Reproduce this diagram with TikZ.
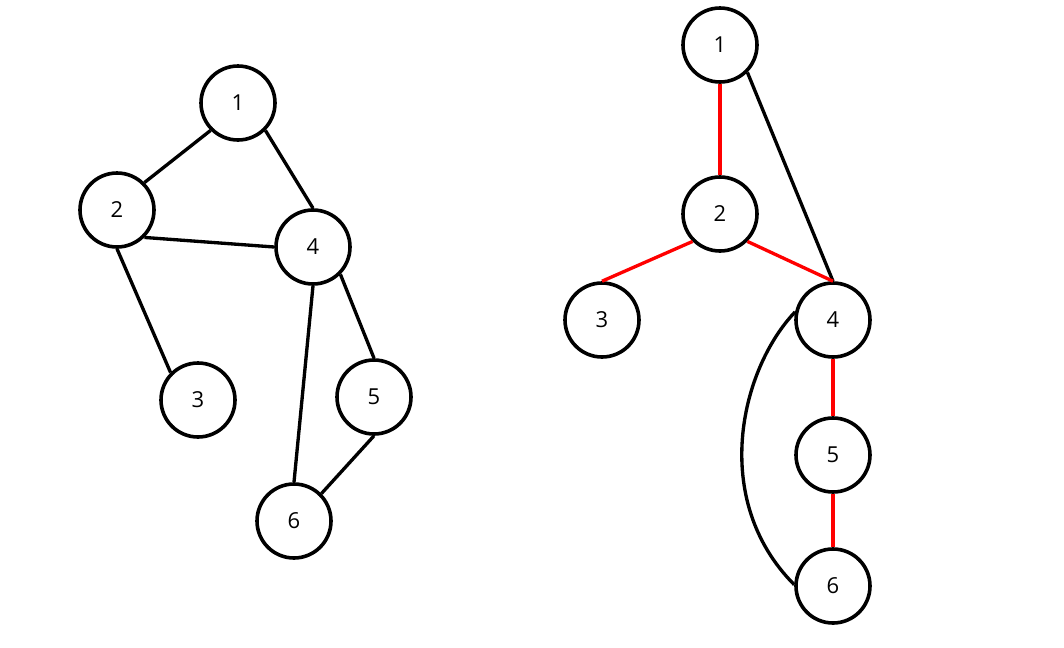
\documentclass[tikz,border=0pt]{standalone}
\usepackage{fontspec}
\setmainfont{Open Sans}
\usetikzlibrary{positioning}

\begin{document}
\begin{tikzpicture}[x=0.75pt,y=-0.75pt,
  vertex/.style={circle,draw,line width=2.7pt,minimum size=55.5pt,inner sep=0pt,font=\fontsize{16.5}{19}\selectfont},
  bedge/.style={line width=2.5pt},
  redge/.style={line width=2.5pt,red}]
\useasboundingbox (0,0) rectangle (1064,647);
% first graph
\node[vertex] (a1) at (238,103) {1};
\node[vertex] (a2) at (117,210) {2};
\node[vertex] (a4) at (313,247) {4};
\node[vertex] (a3) at (198,400) {3};
\node[vertex] (a5) at (374,397) {5};
\node[vertex] (a6) at (294,521) {6};
\draw[bedge] (a1.south west)--(a2.north east);
\draw[bedge] (a1.south east)--(a4.north);
\draw[bedge] (a2.south east)--(a4.west);
\draw[bedge] (a2.south)--(a3.north west);
\draw[bedge] (a4.south east)--(a5.north);
\draw[bedge] (a4.south)--(a6.north);
\draw[bedge] (a5.south)--(a6.north east);
% second graph
\node[vertex] (b1) at (720,45) {1};
\node[vertex] (b2) at (720,214) {2};
\node[vertex] (b3) at (602,320) {3};
\node[vertex] (b4) at (833,320) {4};
\node[vertex] (b5) at (833,455) {5};
\node[vertex] (b6) at (833,586) {6};
\draw[redge] (b1.south)--(b2.north);
\draw[bedge] (b1.south east)--(b4.north);
\draw[redge] (b2.south west)--(b3.north);
\draw[redge] (b2.south east)--(b4.north);
\draw[redge] (b4.south)--(b5.north);
\draw[redge] (b5.south)--(b6.north);
\draw[bedge] (b4.168) .. controls (740,370) and (710,500) .. (b6.178);
\end{tikzpicture}
\end{document}
